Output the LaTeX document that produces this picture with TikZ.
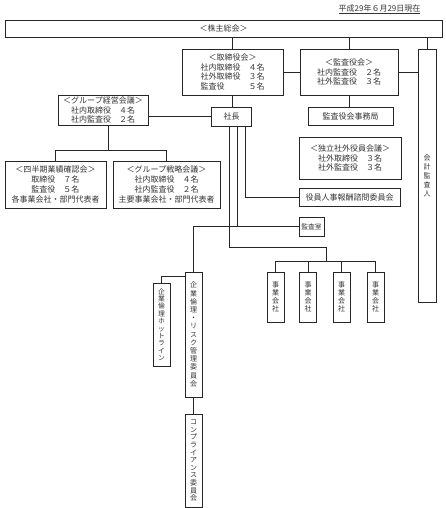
\documentclass[tikz,border=0pt]{standalone}
\usepackage{fontspec}
\setmainfont{Noto Sans CJK JP}
\tikzstyle{box} = [rectangle, draw=black!85, line width=0.8pt, inner sep=0pt, align=center, text=black!80, font=\fontsize{8}{9.7}\selectfont]
\tikzstyle{vbox} = [box, minimum width=17pt, font=\fontsize{7}{8.2}\selectfont]
\tikzstyle{line} = [draw=black!85, line width=0.8pt]

\begin{document}
\begin{tikzpicture}[x=1pt, y=-1pt]
  \useasboundingbox (0,0) rectangle (446,508);
  % top
  \node [text=black!80, font=\fontsize{8}{9}\selectfont] (date) at (379.5,9) {\underline{平成29年６月29日現在}};
  \node [box, minimum width=437pt, minimum height=17pt] (kabunushi) at (223.5,28.5) {＜株主総会＞};
  \node [box, minimum width=101pt, minimum height=46pt] (torishimari) at (232.5,72)
    {＜取締役会＞\\社内取締役　４名\\社外取締役　３名\\監査役　　　５名};
  \node [box, minimum width=98pt, minimum height=46pt] (kansayakukai) at (349,72)
    {＜監査役会＞\\社内監査役　２名\\社外監査役　３名};
  \node [vbox, minimum width=18pt, minimum height=253pt, font=\fontsize{7}{9}\selectfont] (kaikei) at (427,175.5)
    {会\\計\\監\\査\\人};
  % middle
  \node [box, minimum width=40pt, minimum height=19pt] (shacho) at (231.5,116.5) {社長};
  \node [box, minimum width=85pt, minimum height=18pt] (jimukyoku) at (350.5,116) {監査役会事務局};
  \node [box, minimum width=90pt, minimum height=30pt] (keiei) at (103,110)
    {＜グループ経営会議＞\\社内取締役　４名\\社内監査役　２名};
  \node [box, minimum width=101pt, minimum height=47pt] (shihanki) at (55.5,184.5)
    {＜四半期業績確認会＞\\取締役　７名\\監査役　５名\\各事業会社・部門代表者};
  \node [box, minimum width=107pt, minimum height=47pt] (senryaku) at (166.5,184.5)
    {＜グループ戦略会議＞\\社内取締役　４名\\社内監査役　２名\\主要事業会社・部門代表者};
  \node [box, minimum width=102pt, minimum height=42pt] (dokuritsu) at (350,158)
    {＜独立社外役員会議＞\\社外取締役　３名\\社外監査役　３名};
  \node [box, minimum width=101pt, minimum height=18pt] (hoshu) at (349.5,197) {役員人事報酬諮問委員会};
  \node [box, minimum width=25pt, minimum height=19pt, font=\fontsize{6.8}{8}\selectfont] (kansashitsu) at (311.5,226.5) {監査室};
  % bottom
  \node [vbox, minimum height=125pt] (risk) at (193.5,334.5)
    {企\\業\\倫\\理\\・\\リ\\ス\\ク\\管\\理\\委\\員\\会};
  \node [vbox, minimum height=83pt, font=\fontsize{6.8}{7.4}\selectfont] (hotline) at (161.5,324.5)
    {企\\業\\倫\\理\\ホ\\ッ\\ト\\ラ\\イ\\ン};
  \node [vbox, minimum height=93pt, font=\fontsize{7}{7.6}\selectfont] (compliance) at (193.5,460.5)
    {コ\\ン\\プ\\ラ\\イ\\ア\\ン\\ス\\委\\員\\会};
  \node [vbox, minimum height=50pt] (jigyo1) at (275.5,297) {事\\業\\会\\社};
  \node [vbox, minimum height=50pt] (jigyo2) at (308,297) {事\\業\\会\\社};
  \node [vbox, minimum height=50pt] (jigyo3) at (341.5,297) {事\\業\\会\\社};
  \node [vbox, minimum height=50pt] (jigyo4) at (375.5,297) {事\\業\\会\\社};

  % connectors
  \draw [line] (kabunushi.south -| torishimari.north) -- (torishimari.north);
  \draw [line] (kabunushi.south -| kansayakukai.north) -- (kansayakukai.north);
  \draw [line] (kabunushi.south -| kaikei.north) -- (kaikei.north);
  \draw [line] (torishimari.east) -- (kansayakukai.west);
  \draw [line] (kansayakukai.east) -- (kaikei.west |- kansayakukai.east);
  \draw [line] (torishimari.south) -- (torishimari.south |- shacho.north);
  \draw [line] (kansayakukai.south) -- (kansayakukai.south |- jimukyoku.north);
  \draw [line] (shacho.west) -- (shacho.west -| keiei.east);
  \coordinate (gbus) at (108,150);
  \draw [line] (gbus |- keiei.south) -- (gbus);
  \draw [line] (shihanki.north) -- (shihanki.north |- gbus) -- (senryaku.north |- gbus) -- (senryaku.north);
  \draw [line] ([xshift=13.5pt]shacho.south) |- (hoshu.west);
  \draw [line] ([xshift=5.5pt]shacho.south) |- (kansashitsu.west);
  \draw [line] (risk.north) |- ([xshift=5.5pt]shacho.south |- kansashitsu.west);
  \coordinate (jdrop) at (326,247);
  \draw [line] ([xshift=-2.5pt]shacho.south) |- (jdrop) -- ++(0,15);
  \draw [line] (jigyo1.north) -- ++(0,-10) -| (jigyo4.north);
  \draw [line] (jigyo2.north) -- ++(0,-10);
  \draw [line] (jigyo3.north) -- ++(0,-10);
  \draw [line] (hotline.north) |- ([yshift=-5pt]risk.north west);
  \draw [line] (risk.south) -- (compliance.north);
\end{tikzpicture}
\end{document}
